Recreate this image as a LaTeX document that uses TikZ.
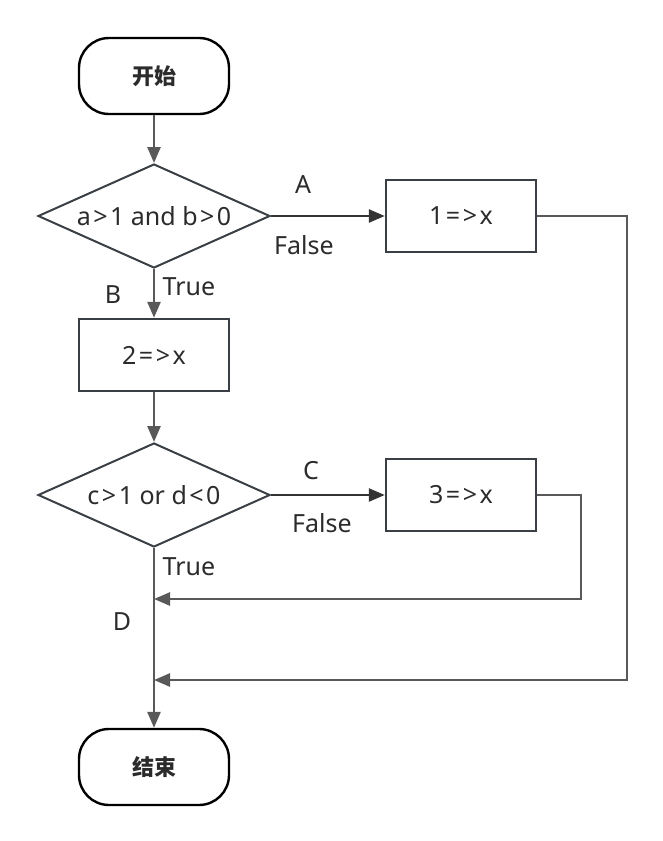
\documentclass[tikz,border=0pt]{standalone}
\usepackage{fontspec}
\setmainfont{Noto Sans}
\newfontfamily\cjk{Noto Sans CJK SC}
\usetikzlibrary{shapes.geometric,arrows.meta}
\definecolor{lgray}{HTML}{595959}
\definecolor{dgray}{HTML}{333333}
\definecolor{bgray}{HTML}{3A3F45}
\definecolor{tgray}{HTML}{2B2B2B}
\newcommand{\kk}{\kern2.5pt}
\tikzset{
  x=1pt,y=-1pt,
  every node/.style={font=\fontsize{25}{30}\selectfont, text=tgray},
  term/.style={draw=black, line width=2.4pt, rounded corners=30pt, minimum width=150pt, minimum height=76pt, inner sep=0pt, font=\fontsize{22}{26}\selectfont\cjk\bfseries},
  proc/.style={draw=bgray, line width=2.4pt, minimum width=150pt, minimum height=72pt, inner sep=0pt},
  dec/.style={draw=bgray, line width=2pt, diamond, aspect=2.23, minimum width=232pt, minimum height=104pt, inner sep=0pt},
  flow/.style={draw=lgray, line width=2.6pt, -{Triangle[length=16pt,width=13pt]}},
  flowd/.style={draw=dgray, line width=2.4pt, -{Triangle[length=16pt,width=13pt]}},
  lbl/.style={inner sep=0pt}
}
\begin{document}
\begin{tikzpicture}
\useasboundingbox (0,0) rectangle (663,841);
\node[term] (start) at (154,76) {开始};
\node[dec] (d1) at (154,216) {a\kk>\kk1 and b\kk>\kk0};
\node[proc] (p1) at (461,216) {1\kk=\kk>\kk x};
\node[proc] (p2) at (154,355) {2\kk=\kk>\kk x};
\node[dec] (d2) at (154,495) {c\kk>\kk1 or d\kk<\kk0};
\node[proc] (p3) at (461,495) {3\kk=\kk>\kk x};
\node[term] (end) at (154,767) {结束};
\coordinate (j1) at (154,599);
\coordinate (j2) at (154,680);
\coordinate (r1) at (627,216);
\coordinate (r3) at (581,495);

\draw[flow] (start) -- (d1);
\draw[flowd] (d1.east) -- (p1.west);
\draw[flow] (d1.south) -- (p2.north);
\draw[flow] (p2) -- (d2);
\draw[flowd] (d2.east) -- (p3.west);
\draw[flow] (d2.south) -- (end.north);
\draw[flow] (p3.east) -- (r3) |- (j1);
\draw[flow] (p1.east) -- (r1) |- (j2);

\node[lbl] (la) at (303,185) {A};
\node[lbl] (lf1) at (304,245) {False};
\node[lbl] (lb) at (113,295) {B};
\node[lbl] (lt1) at (189,287) {True};
\node[lbl] (lc) at (311,471) {C};
\node[lbl] (lf2) at (322,523) {False};
\node[lbl] (lt2) at (189,567) {True};
\node[lbl] (ld) at (122,622) {D};
\end{tikzpicture}
\end{document}
